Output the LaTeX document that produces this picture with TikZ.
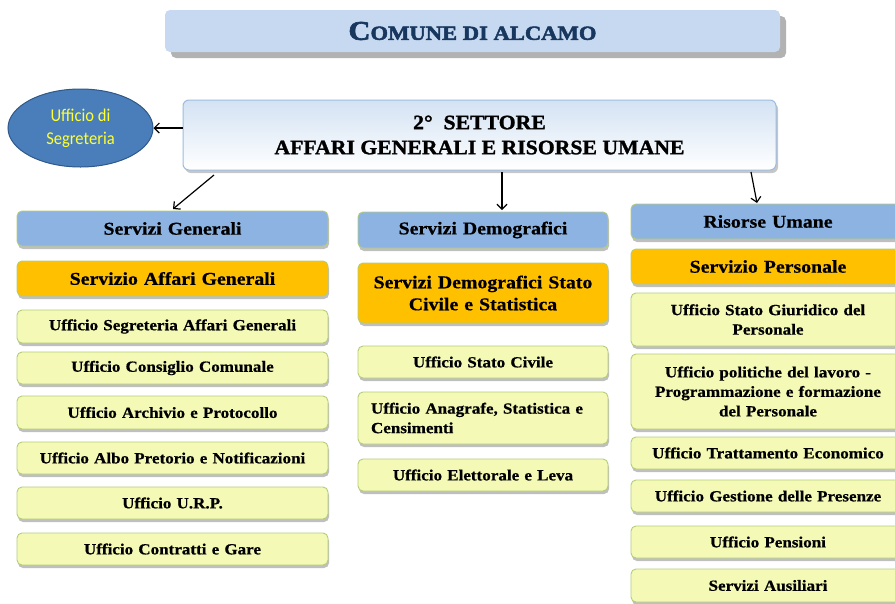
\documentclass[tikz,border=0pt]{standalone}
\usepackage{fontspec}
\setmainfont[FakeStretch=1.1, BoldFeatures={FakeBold=0.6}]{Liberation Serif}
\newfontfamily\calib[FakeStretch=0.92]{Carlito}
\newfontfamily\titlefont[FakeStretch=1.13, BoldFeatures={FakeBold=2.5}]{Liberation Serif}
\newfontfamily\settfont[FakeStretch=1.06, BoldFeatures={FakeBold=1.3}]{Liberation Serif}
\usetikzlibrary{shadows,arrows.meta,shapes.geometric}
\definecolor{hdrblue}{HTML}{8DB3E2}
\definecolor{orng}{HTML}{FFC000}
\definecolor{pyel}{HTML}{F4F9B6}
\definecolor{gbord}{HTML}{B5CC7A}
\definecolor{titlefill}{HTML}{C6D9F1}
\definecolor{titletext}{HTML}{17375E}
\definecolor{setttop}{HTML}{D3E2F3}
\definecolor{settbord}{HTML}{9CBCE0}
\definecolor{ellfill}{HTML}{4A7EBB}
\definecolor{ellbord}{HTML}{2F5888}
\definecolor{elltext}{HTML}{FFFF33}
\tikzset{
  basebox/.style={draw=gbord, line width=0.9pt, rounded corners=5pt, inner sep=2pt, align=center,
     drop shadow={shadow xshift=1pt, shadow yshift=-3pt, fill=black, opacity=0.25}},
  hdrbox/.style={basebox, fill=hdrblue, font=\fontsize{18}{22}\selectfont\bfseries},
  orbox/.style={basebox, fill=orng, font=\fontsize{18}{22}\selectfont\bfseries},
  offbox/.style={basebox, fill=pyel, font=\fontsize{15.5}{19.5}\selectfont\bfseries},
  arr/.style={line width=1.2pt, -{Straight Barb[length=5pt,width=10pt]}},
  lcol/.style={minimum width=311pt, text width=300pt},
  mcol/.style={minimum width=250pt, text width=240pt},
  rcol/.style={minimum width=274pt, text width=264pt},
}
\begin{document}
\begin{tikzpicture}[x=1pt,y=-1pt]
\clip (0,0) rectangle (895,603);
\fill[white] (0,0) rectangle (895,603);
% title
\node[fill=titlefill, rounded corners=5pt, minimum width=615pt, minimum height=42pt,
  drop shadow={shadow xshift=6pt, shadow yshift=-6pt, fill=black, opacity=0.3}] (title) at (472.5,31)
  {\color{titletext}\titlefont\bfseries\fontsize{27}{27}\selectfont C\fontsize{20}{20}\selectfont OMUNE DI ALCAMO};
% settore
\node[draw=settbord, line width=1pt, rounded corners=6pt, top color=setttop, bottom color=white,
  minimum width=593pt, minimum height=70pt, align=center,
  font=\settfont\fontsize{20.5}{25}\selectfont,
  drop shadow={shadow xshift=2pt, shadow yshift=-3pt, fill=black, opacity=0.22}] (settore) at (479.5,135)
  {\textbf{2°\ \ SETTORE}\\\textbf{AFFARI GENERALI E RISORSE UMANE}};
% ellipse
\node[ellipse, draw=ellbord, line width=1pt, fill=ellfill, minimum width=145pt, minimum height=78pt,
  align=center, font=\calib\fontsize{18}{23}\selectfont, text=elltext] (ell) at (80.5,128)
  {Ufficio di\\Segreteria};
\draw[arr] (settore.west |- ell.east) -- (ell.east);
% left column
\node[hdrbox, lcol, minimum height=35pt] (sg) at (172.5,228.5) {Servizi Generali};
\node[orbox, lcol, minimum height=35pt] (sag) at (172.5,278.5) {Servizio Affari Generali};
\node[offbox, lcol, minimum height=33pt] (l1) at (172.5,326.5) {Ufficio Segreteria Affari Generali};
\node[offbox, lcol, minimum height=32pt] (l2) at (172.5,368) {Ufficio Consiglio Comunale};
\node[offbox, lcol, minimum height=33pt] (l3) at (172.5,412.5) {Ufficio Archivio e Protocollo};
\node[offbox, lcol, minimum height=32pt] (l4) at (172.5,458) {Ufficio Albo Pretorio e Notificazioni};
\node[offbox, lcol, minimum height=32pt] (l5) at (172.5,503) {Ufficio U.R.P.};
\node[offbox, lcol, minimum height=32pt] (l6) at (172.5,549) {Ufficio Contratti e Gare};
% middle column
\node[hdrbox, mcol, minimum height=36pt] (sd) at (483,230) {Servizi Demografici};
\node[orbox, mcol, minimum height=60pt] (sdo) at (483,293) {Servizi Demografici Stato\\Civile e Statistica};
\node[offbox, mcol, minimum height=32pt] (m1) at (483,362) {Ufficio Stato Civile};
\node[offbox, minimum width=250pt, text width=224pt, inner xsep=13pt, align=left, minimum height=52pt] (m2) at (483,418)
  {Ufficio Anagrafe, Statistica e\\Censimenti};
\node[offbox, mcol, minimum height=32pt] (m3) at (483,475) {Ufficio Elettorale e Leva};
% right column
\node[hdrbox, rcol, minimum height=35pt] (ru) at (768,221.5) {Risorse Umane};
\node[orbox, rcol, minimum height=35pt] (sp) at (768,266.5) {Servizio Personale};
\node[offbox, rcol, minimum height=53pt] (r1) at (768,319.5) {Ufficio Stato Giuridico del\\Personale};
\node[offbox, rcol, minimum height=75pt] (r2) at (768,391.5) {Ufficio politiche del lavoro -\\Programmazione e formazione\\del Personale};
\node[offbox, rcol, minimum height=32pt] (r3) at (768,453) {Ufficio Trattamento Economico};
\node[offbox, rcol, minimum height=32pt] (r4) at (768,496) {Ufficio Gestione delle Presenze};
\node[offbox, rcol, minimum height=32pt] (r5) at (768,542) {Ufficio Pensioni};
\node[offbox, rcol, minimum height=33pt] (r6) at (768,585.5) {Servizi Ausiliari};
% arrows
\coordinate (a1s) at (214,175);
\coordinate (a1e) at (173,209);
\coordinate (a2s) at (502,172);
\coordinate (a2e) at (502,210);
\coordinate (a3s) at (751,172);
\coordinate (a3e) at (757,203);
\draw[arr] (a1s) -- (a1e);
\draw[arr] (a2s) -- (a2e);
\draw[arr] (a3s) -- (a3e);
\end{tikzpicture}
\end{document}
